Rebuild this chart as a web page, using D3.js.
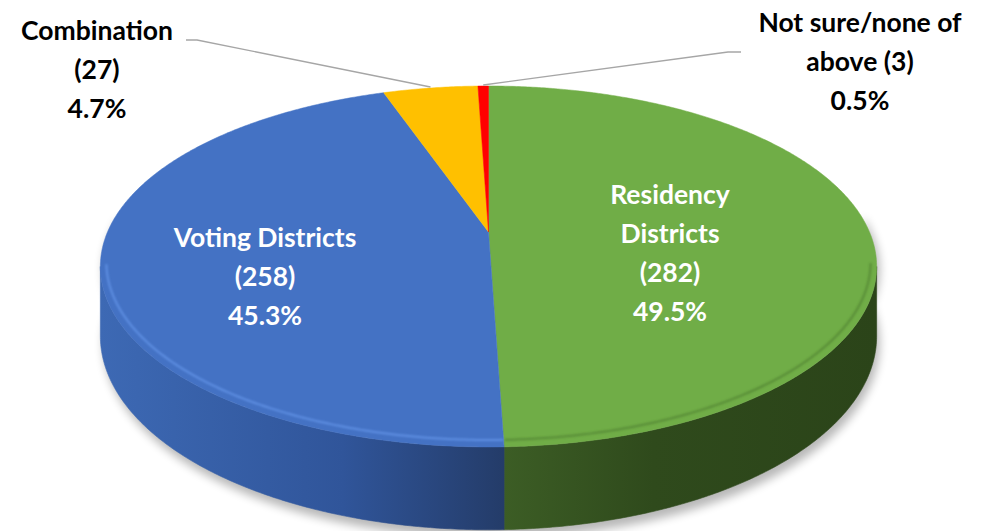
<!DOCTYPE html>
<html>
<head>
<meta charset="utf-8">
<script src="https://cdn.jsdelivr.net/npm/d3@7"></script>
<style>
  body { margin: 0; background: #fff; }
  svg text { font-family: Lato, "Open Sans", sans-serif; font-weight: 700; font-size: 26.5px; }
</style>
</head>
<body>
<div id="chart"></div>
<script>
// data (slices in drawing order, clockwise from 12 o'clock)
var categories = ["Residency Districts", "Voting Districts", "Combination", "Not sure/none of above"];
var counts = [282, 258, 27, 3];
var sliceColors = ["#70ad47", "#4472c4", "#ffc000", "#ff0000"];

var width = 983, height = 531;

// projection of the tilted disc (perspective: far half smaller than near half)
var CX = 488.5, CY = 232, A = 381, B = 173.9, P = 0.191, H = 67;

function proj(theta, r, drop) {
    var u = Math.sin(theta) * r, w = Math.cos(theta) * r;
    var s = 1 / (1 + P * w);
    return [CX + A * u * s, CY - B * w * s + (drop || 0) * s];
}

var total = d3.sum(counts);
var pct = d3.format(".1%");

var pie = d3.pie().sort(null).value(function (d) { return d; });
var arcs = pie(counts);

var svg = d3.select("#chart").append("svg")
    .attr("width", width)
    .attr("height", height);

var defs = svg.append("defs");

defs.append("filter").attr("id", "shadow")
    .attr("x", "-10%").attr("y", "-10%").attr("width", "120%").attr("height", "130%")
    .append("feGaussianBlur").attr("stdDeviation", 5);

defs.append("filter").attr("id", "soft")
    .append("feGaussianBlur").attr("stdDeviation", 1.3);

// side wall gradients
var sideStops = [
    [["0%", "#3d69b4"], ["60%", "#30559a"], ["100%", "#243c69"]],   // blue
    [["0%", "#3c5d25"], ["40%", "#2f4a1c"], ["100%", "#2b4419"]]    // green
];
var gBlue = defs.append("linearGradient").attr("id", "side-1")
    .attr("gradientUnits", "userSpaceOnUse")
    .attr("x1", 100).attr("x2", 504).attr("y1", 0).attr("y2", 0);
sideStops[0].forEach(function (s) { gBlue.append("stop").attr("offset", s[0]).attr("stop-color", s[1]); });
var gGreen = defs.append("linearGradient").attr("id", "side-0")
    .attr("gradientUnits", "userSpaceOnUse")
    .attr("x1", 504).attr("x2", 877).attr("y1", 0).attr("y2", 0);
sideStops[1].forEach(function (s) { gGreen.append("stop").attr("offset", s[0]).attr("stop-color", s[1]); });

var step = Math.PI / 360;

function rimPoints(a0, a1, drop) {
    var pts = [];
    var n = Math.max(2, Math.ceil((a1 - a0) / step));
    for (var i = 0; i <= n; i++) {
        pts.push(proj(a0 + (a1 - a0) * i / n, 1, drop));
    }
    return pts;
}

// visible side range (silhouette where cos = -P)
var visL = Math.acos(-P), visR = 2 * Math.PI - Math.acos(-P);

// shadow under the pie
var shadowPts = rimPoints(visL - 0.3, visR + 0.3, H + 4).concat(rimPoints(visL - 0.3, visR + 0.3, 0).reverse());
svg.append("path")
    .attr("d", d3.line()(shadowPts) + "Z")
    .attr("transform", "translate(3,3)")
    .attr("fill", "#000")
    .attr("opacity", 0.28)
    .attr("filter", "url(#shadow)");

// side walls
var sides = svg.append("g").attr("class", "sides");
arcs.forEach(function (d, i) {
    var a0 = Math.max(d.startAngle, visL), a1 = Math.min(d.endAngle, visR);
    if (a1 <= a0) return;
    var top = rimPoints(a0, a1, 0);
    var bot = rimPoints(a0, a1, H).reverse();
    sides.append("path")
        .attr("d", d3.line()(top.concat(bot)) + "Z")
        .attr("fill", "url(#side-" + i + ")")
        .attr("stroke", "url(#side-" + i + ")")
        .attr("stroke-width", 0.6);
});

// top faces
var tops = svg.append("g").attr("class", "tops");
arcs.forEach(function (d, i) {
    var pts = [proj(0, 0)].concat(rimPoints(d.startAngle, d.endAngle, 0));
    tops.append("path")
        .attr("d", d3.line()(pts) + "Z")
        .attr("fill", sliceColors[i])
        .attr("stroke", sliceColors[i])
        .attr("stroke-width", 0.5);
});

// bevel highlight along the front rim
var bevelArcs = [
    [arcs[1].startAngle, visR, "#6a9cf0", 0.7],
    [visL, arcs[0].endAngle, "#3f6a27", 0.5]
];
bevelArcs.forEach(function (b) {
    var pts = [];
    for (var t = b[0]; t <= b[1]; t += step) {
        var p = proj(t, 0.985, 0);
        pts.push([p[0], p[1] - 3]);
    }
    svg.append("path")
        .attr("d", d3.line()(pts))
        .attr("fill", "none")
        .attr("stroke", b[2])
        .attr("stroke-width", 2)
        .attr("opacity", b[3])
        .attr("filter", "url(#soft)");
});

// labels
var labelLines = [
    ["Residency", "Districts", "(" + counts[0] + ")", pct(counts[0] / total)],
    ["Voting Districts", "(" + counts[1] + ")", pct(counts[1] / total)],
    ["Combination", "(" + counts[2] + ")", pct(counts[2] / total)],
    ["Not sure/none of", "above (" + counts[3] + ")", pct(counts[3] / total)]
];
var labelPos = [[670, 204], [265, 247], [97, 40], [860, 32]];
var labelFill = ["#fff", "#fff", "#000", "#000"];
var lineHeight = 39;

labelLines.forEach(function (lines, i) {
    var t = svg.append("text")
        .attr("text-anchor", "middle")
        .attr("fill", labelFill[i]);
    lines.forEach(function (s, j) {
        t.append("tspan")
            .attr("x", labelPos[i][0])
            .attr("y", labelPos[i][1] + j * lineHeight)
            .text(s);
    });
});

// leader lines for the small slices
var leaderStart = { 2: [[186, 40], [197, 40]], 3: [[741, 52], [728, 52]] };
[2, 3].forEach(function (i) {
    var mid = (arcs[i].startAngle + arcs[i].endAngle) / 2;
    var end = proj(mid, 1, 0);
    var pts = leaderStart[i].concat([[end[0], end[1] - 1]]);
    svg.append("path")
        .attr("d", d3.line()(pts))
        .attr("fill", "none")
        .attr("stroke", "#a6a6a6")
        .attr("stroke-width", 1.4);
});
</script>
</body>
</html>
